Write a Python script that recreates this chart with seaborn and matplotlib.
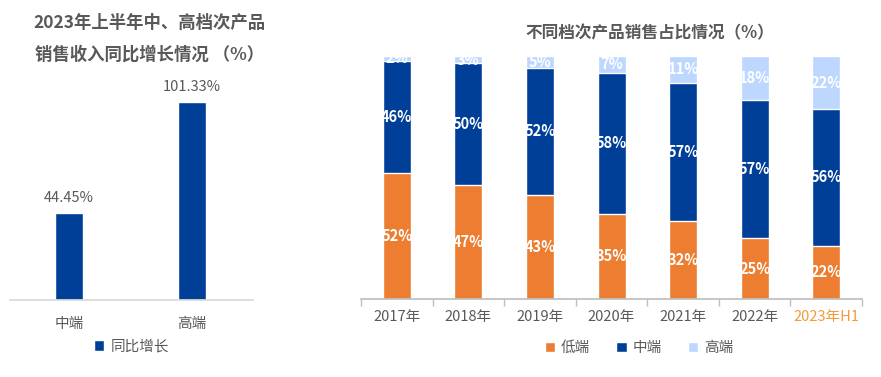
import pandas as pd
import matplotlib.pyplot as plt
import seaborn as sns
import numpy as np

# Left chart data: growth of mid / high end sales revenue, 2023 H1
growth_cats = ["中端", "高端"]
growth_vals = [44.45, 101.33]

# Right chart data: share of sales by product tier
years = ["2017年", "2018年", "2019年", "2020年", "2021年", "2022年", "2023年H1"]
low_share = [52, 47, 43, 35, 32, 25, 22]
mid_share = [46, 50, 52, 58, 57, 57, 56]
high_share = [2, 3, 5, 7, 11, 18, 22]

sns.set_theme(style="white")
plt.rcParams['font.family'] = ['Noto Sans CJK SC', 'DejaVu Sans']

C_LOW = "#ED7D31"
C_MID = "#003F98"
C_HIGH = "#BDD7FF"
GRAY = "#595959"

fig = plt.figure(figsize=(8.81, 3.77), dpi=100)

# ---- left chart
ax1 = fig.add_axes([0.0114, 0.2042, 0.2758, 0.6366])
df1 = pd.DataFrame({"cat": growth_cats, "val": growth_vals})
sns.barplot(data=df1, x="cat", y="val", color=C_MID, width=0.228,
            saturation=1, ax=ax1, label="同比增长")
ax1.set_xlim(-0.48, 1.5)
ax1.set_ylim(0, 122.8)
for i, v in enumerate(growth_vals):
    ax1.text(i, v + 4, f"{v:.2f}%", ha="center", va="bottom",
             fontsize=10.5, color=GRAY)
ax1.set_xlabel("")
ax1.set_ylabel("")
ax1.set_yticks([])
ax1.tick_params(axis="x", colors=GRAY, labelsize=10.5, length=0, pad=12)
for s in ["top", "right", "left"]:
    ax1.spines[s].set_visible(False)
ax1.spines["bottom"].set_color("#D9D9D9")
ax1.legend(loc="upper center", bbox_to_anchor=(0.5, -0.11), frameon=False,
           fontsize=10.5, handlelength=0.7, handleheight=0.7,
           handletextpad=0.4, labelcolor=GRAY)
fig.text(0.17, 0.94, "2023年上半年中、高档次产品", ha="center", va="center",
         fontsize=12.5, fontweight="bold", color=GRAY)
fig.text(0.17, 0.855, "销售收入同比增长情况 （%）", ha="center", va="center",
         fontsize=12.5, fontweight="bold", color=GRAY)

# ---- right chart (stacked)
ax2 = fig.add_axes([0.4098, 0.2069, 0.5687, 0.6446])
low = np.array(low_share)
mid = np.array(mid_share)
high = np.array(high_share)
df2 = pd.DataFrame({"year": years, "total": low + mid + high,
                    "lowmid": low + mid, "low": low})
sns.barplot(data=df2, x="year", y="total", color=C_HIGH, width=0.39,
            saturation=1, ax=ax2, label="高端")
sns.barplot(data=df2, x="year", y="lowmid", color=C_MID, width=0.39,
            saturation=1, ax=ax2, label="中端")
sns.barplot(data=df2, x="year", y="low", color=C_LOW, width=0.39,
            saturation=1, ax=ax2, label="低端")
for i in range(len(years)):
    bottoms = [0, low[i], low[i] + mid[i]]
    for b, v in zip(bottoms, [low[i], mid[i], high[i]]):
        ax2.text(i, b + v / 2, f"{v}%", ha="center", va="center",
                 fontsize=10.5, fontweight="bold", color="white", clip_on=False)
ax2.set_xlim(-0.5, 6.5)
ax2.set_ylim(0, 100)
ax2.set_xlabel("")
ax2.set_ylabel("")
ax2.set_yticks([])
ax2.set_xticks(np.arange(-0.5, 7, 1), minor=True)
ax2.tick_params(axis="x", which="major", length=0, colors=GRAY,
                labelsize=10.5, pad=8)
ax2.tick_params(axis="x", which="minor", length=5, color="#BFBFBF",
                direction="out", bottom=True)
ax2.get_xticklabels()[-1].set_color("#F29B38")
for s in ["top", "right", "left"]:
    ax2.spines[s].set_visible(False)
ax2.spines["bottom"].set_color("#BFBFBF")
h, l = ax2.get_legend_handles_labels()
order = [l.index("低端"), l.index("中端"), l.index("高端")]
ax2.legend([h[k] for k in order], [l[k] for k in order], loc="upper center",
           bbox_to_anchor=(0.555, -0.12), ncol=3, frameon=False, fontsize=10.5,
           handlelength=0.7, handleheight=0.7, handletextpad=0.4,
           columnspacing=1.8, labelcolor=GRAY)
fig.text(0.738, 0.912, "不同档次产品销售占比情况（%）", ha="center",
         va="center", fontsize=12, fontweight="bold", color=GRAY)

plt.savefig("out.png", dpi=100)
